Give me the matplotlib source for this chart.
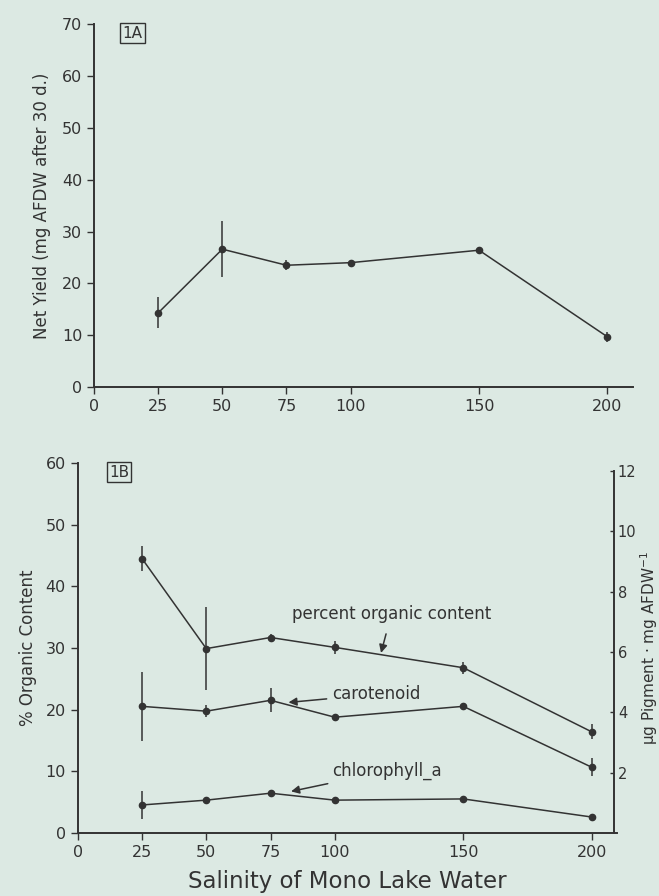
import numpy as np
import matplotlib
matplotlib.use("Agg")
import matplotlib.pyplot as plt

# salinity levels (x)
salinity = [25, 50, 75, 100, 150, 200]

# panel 1A: net yield (mg AFDW after 30 d)
net_yield = [14.3, 26.6, 23.5, 24.0, 26.4, 9.7]
net_yield_err = [3.0, 5.4, 1.0, 0.4, 0.4, 1.0]

# panel 1B: percent organic content (left axis)
organic = [44.5, 29.9, 31.7, 30.1, 26.8, 16.4]
organic_err = [2.0, 6.7, 0.5, 1.0, 1.0, 1.2]

# panel 1B: pigments (right axis, ug pigment / mg AFDW)
carotenoid = [4.2, 4.04, 4.4, 3.84, 4.2, 2.18]
carotenoid_err = [1.15, 0.2, 0.4, 0.1, 0.1, 0.3]
chlorophyll = [0.93, 1.09, 1.32, 1.09, 1.13, 0.53]
chlorophyll_err = [0.45, 0.05, 0.12, 0.05, 0.05, 0.08]

x_ticks = [0, 25, 50, 75, 100, 150, 200]

bg = "#dce9e3"
ink = "#333333"
plt.rcParams["font.family"] = "DejaVu Sans"

fig = plt.figure(figsize=(6.59, 8.96), dpi=100, facecolor=bg)


def style_axes(ax):
    ax.set_facecolor(bg)
    ax.spines["top"].set_visible(False)
    ax.spines["right"].set_visible(False)
    for s in ("left", "bottom"):
        ax.spines[s].set_color(ink)
        ax.spines[s].set_linewidth(1.4)
    ax.tick_params(colors=ink, labelsize=11.5, width=1.0, length=5)
    ax.set_xlim(0, 210)
    ax.set_xticks(x_ticks)
    ax.spines["bottom"].set_bounds(0, 210)


def series(ax, y, err):
    ax.errorbar(salinity, y, yerr=err, color=ink, lw=1.1, marker="o", ms=4.5,
                elinewidth=1.1, capsize=0, clip_on=False)


# ---- 1A ----
ax1 = fig.add_axes([0.1426, 0.568, 0.818, 0.405])
style_axes(ax1)
ax1.set_ylim(0, 70)
ax1.set_yticks(range(0, 71, 10))
series(ax1, net_yield, net_yield_err)
ax1.set_ylabel("Net Yield (mg AFDW after 30 d.)", fontsize=12, color=ink, labelpad=8)
ax1.text(0.053, 0.975, "1A", transform=ax1.transAxes, fontsize=11, color=ink,
         va="center", ha="left",
         bbox=dict(boxstyle="square,pad=0.15", fc="none", ec=ink, lw=1))

# ---- 1B ----
ax2 = fig.add_axes([0.118, 0.0703, 0.819, 0.413])
style_axes(ax2)
ax2.set_ylim(0, 60)
ax2.set_yticks(range(0, 61, 10))
series(ax2, organic, organic_err)
ax2.set_ylabel("% Organic Content", fontsize=12, color=ink, labelpad=6)
ax2.set_xlabel("Salinity of Mono Lake Water", fontsize=16.5, color=ink, labelpad=7)
ax2.text(0.058, 0.975, "1B", transform=ax2.transAxes, fontsize=11, color=ink,
         va="center", ha="left",
         bbox=dict(boxstyle="square,pad=0.15", fc="none", ec=ink, lw=1))

ax3 = ax2.twinx()
ax3.set_ylim(0, 12.27)
ax3.set_yticks(range(2, 13, 2))
for s in ("top", "left", "bottom"):
    ax3.spines[s].set_visible(False)
ax3.spines["right"].set_position(("axes", 0.993))
ax3.spines["right"].set_bounds(0, 12)
ax3.spines["right"].set_color(ink)
ax3.spines["right"].set_linewidth(1.4)
ax3.tick_params(colors=ink, labelsize=10.5, direction="in", length=3, width=1.0, pad=3)
series(ax3, carotenoid, carotenoid_err)
series(ax3, chlorophyll, chlorophyll_err)
ax3.set_ylabel("μg Pigment · mg AFDW$^{-1}$", fontsize=11, color=ink, labelpad=1)

# annotations
ax2.annotate("percent organic content", xy=(118, 29.2), xytext=(122, 35.5),
             fontsize=12, color=ink, ha="center", va="center",
             arrowprops=dict(arrowstyle="-|>", color=ink, lw=1.1,
                             shrinkA=6, shrinkB=0, mutation_scale=12))
ax3.annotate("carotenoid", xy=(82, 4.33), xytext=(99, 4.6),
             fontsize=12, color=ink, ha="left", va="center",
             arrowprops=dict(arrowstyle="-|>", color=ink, lw=1.1,
                             shrinkA=2, shrinkB=0, mutation_scale=12))
ax3.annotate("chlorophyll_a", xy=(83, 1.38), xytext=(99, 2.05),
             fontsize=12, color=ink, ha="left", va="center",
             arrowprops=dict(arrowstyle="-|>", color=ink, lw=1.1,
                             shrinkA=2, shrinkB=0, mutation_scale=12))

fig.savefig("out.png", dpi=100, facecolor=bg)
